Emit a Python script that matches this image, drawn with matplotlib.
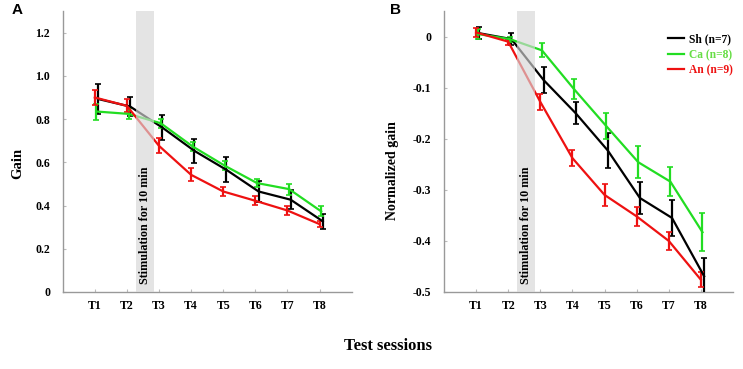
import numpy as np
import matplotlib.pyplot as plt
import matplotlib.transforms as mtransforms
from matplotlib.lines import Line2D

# sessions
sessions = ["T1", "T2", "T3", "T4", "T5", "T6", "T7", "T8"]

# panel A : gain
gain_sh = [0.893, 0.858, 0.761, 0.653, 0.565, 0.465, 0.427, 0.327]
gain_sh_err = [0.070, 0.045, 0.058, 0.055, 0.058, 0.048, 0.043, 0.035]
gain_ca = [0.835, 0.824, 0.781, 0.673, 0.584, 0.504, 0.476, 0.373]
gain_ca_err = [0.037, 0.025, 0.020, 0.020, 0.020, 0.020, 0.025, 0.023]
gain_an = [0.900, 0.861, 0.676, 0.542, 0.465, 0.422, 0.377, 0.314]
gain_an_err = [0.035, 0.030, 0.035, 0.030, 0.020, 0.020, 0.020, 0.015]

# panel B : normalized gain
norm_sh = [0.0065, -0.005, -0.085, -0.150, -0.223, -0.316, -0.355, -0.469]
norm_sh_err = [0.012, 0.012, 0.025, 0.021, 0.035, 0.031, 0.036, 0.035]
norm_ca = [0.005, -0.005, -0.027, -0.103, -0.175, -0.246, -0.284, -0.383]
norm_ca_err = [0.010, 0.005, 0.014, 0.020, 0.025, 0.031, 0.029, 0.037]
norm_an = [0.008, -0.010, -0.128, -0.238, -0.310, -0.352, -0.400, -0.476]
norm_an_err = [0.008, 0.006, 0.015, 0.016, 0.022, 0.018, 0.018, 0.015]

group_labels = ["Sh (n=7)", "Ca (n=8)", "An (n=9)"]
colors = ["#000000", "#22dd22", "#ee1111"]
offsets = [0.1, 0.05, 0.0]

serif = "Liberation Serif"
sans = "Liberation Sans"

fig = plt.figure(figsize=(7.43, 3.69), dpi=100)
W, H = 743, 369


def make_axes(x0, x1, y0, y1):
    return fig.add_axes([x0 / W, 1 - y1 / H, (x1 - x0) / W, (y1 - y0) / H])


def style_axes(ax):
    for s in ["top", "right"]:
        ax.spines[s].set_visible(False)
    for s in ["left", "bottom"]:
        ax.spines[s].set_color("#999999")
        ax.spines[s].set_linewidth(1.0)
    ax.tick_params(direction="in", length=2, width=0.8, color="#bbbbbb",
                   labelsize=8.5)
    ax.tick_params(axis="y", pad=9)
    ax.tick_params(axis="x", pad=6)
    ax.set_xlim(0, 9)
    ax.set_xticks(range(1, 9))
    ax.set_xticklabels(sessions)
    for lab in ax.get_xticklabels() + ax.get_yticklabels():
        lab.set_fontfamily(serif)
        lab.set_fontweight("bold")


def draw_panel(ax, series, errs):
    x = np.arange(1, 9)
    for vals, err, c, off, lab in zip(series, errs, colors, offsets, group_labels):
        ax.errorbar(x + off, vals, yerr=err, color=c, lw=1.6, elinewidth=1.6,
                    capsize=2.4, capthick=1.2, label=lab, zorder=3)
    ax.axvspan(2.27, 2.83, color="#d6d6d6", alpha=0.65, lw=0, zorder=5)
    trans = mtransforms.blended_transform_factory(ax.transData, ax.transAxes)
    ax.text(2.55, 0.03, "Stimulation for 10 min", rotation=90, transform=trans,
            ha="center", va="bottom", fontsize=8.7, fontweight="bold",
            family=serif, zorder=6)


# panel A
axA = make_axes(62.7, 351.7, 11, 292)
draw_panel(axA, [gain_sh, gain_ca, gain_an], [gain_sh_err, gain_ca_err, gain_an_err])
axA.set_ylim(0, 1.3)
axA.set_yticks([0, 0.2, 0.4, 0.6, 0.8, 1.0, 1.2])
axA.set_yticklabels(["0", "0.2", "0.4", "0.6", "0.8", "1.0", "1.2"])
style_axes(axA)
fig.text(17.5 / W, 1 - 163 / H, "Gain", rotation=90, ha="center", va="center",
         fontsize=10.5, fontweight="bold", family=serif)
fig.text(12 / W, 1 - 10 / H, "A", ha="left", va="center", fontsize=11,
         fontweight="bold", family=sans)

# panel B
axB = make_axes(444, 733, 11, 292)
draw_panel(axB, [norm_sh, norm_ca, norm_an], [norm_sh_err, norm_ca_err, norm_an_err])
axB.set_ylim(-0.5, 0.05)
axB.set_yticks([-0.5, -0.4, -0.3, -0.2, -0.1, 0])
axB.set_yticklabels(["-0.5", "-0.4", "-0.3", "-0.2", "-0.1", "0"])
style_axes(axB)
fig.text(392.5 / W, 1 - 171 / H, "Normalized gain", rotation=90, ha="center",
         va="center", fontsize=10, fontweight="bold", family=serif)
fig.text(390 / W, 1 - 10 / H, "B", ha="left", va="center", fontsize=11,
         fontweight="bold", family=sans)

leg_handles = [Line2D([0], [0], color=c, lw=1.6) for c in colors]
leg = axB.legend(leg_handles, group_labels, loc="upper left",
                 bbox_to_anchor=(0.775, 0.92), frameon=False, borderaxespad=0,
                 borderpad=0, handlelength=1.4, handletextpad=0.45,
                 labelspacing=0.3, prop={"family": serif, "weight": "bold", "size": 8.3})
for t, c in zip(leg.get_texts(), ["#000000", "#66dd44", "#ee1111"]):
    t.set_color(c)

fig.text(388 / W, 1 - 346 / H, "Test sessions", ha="center", va="center",
         fontsize=12, fontweight="bold", family=serif)

fig.savefig("out.png", dpi=100)
